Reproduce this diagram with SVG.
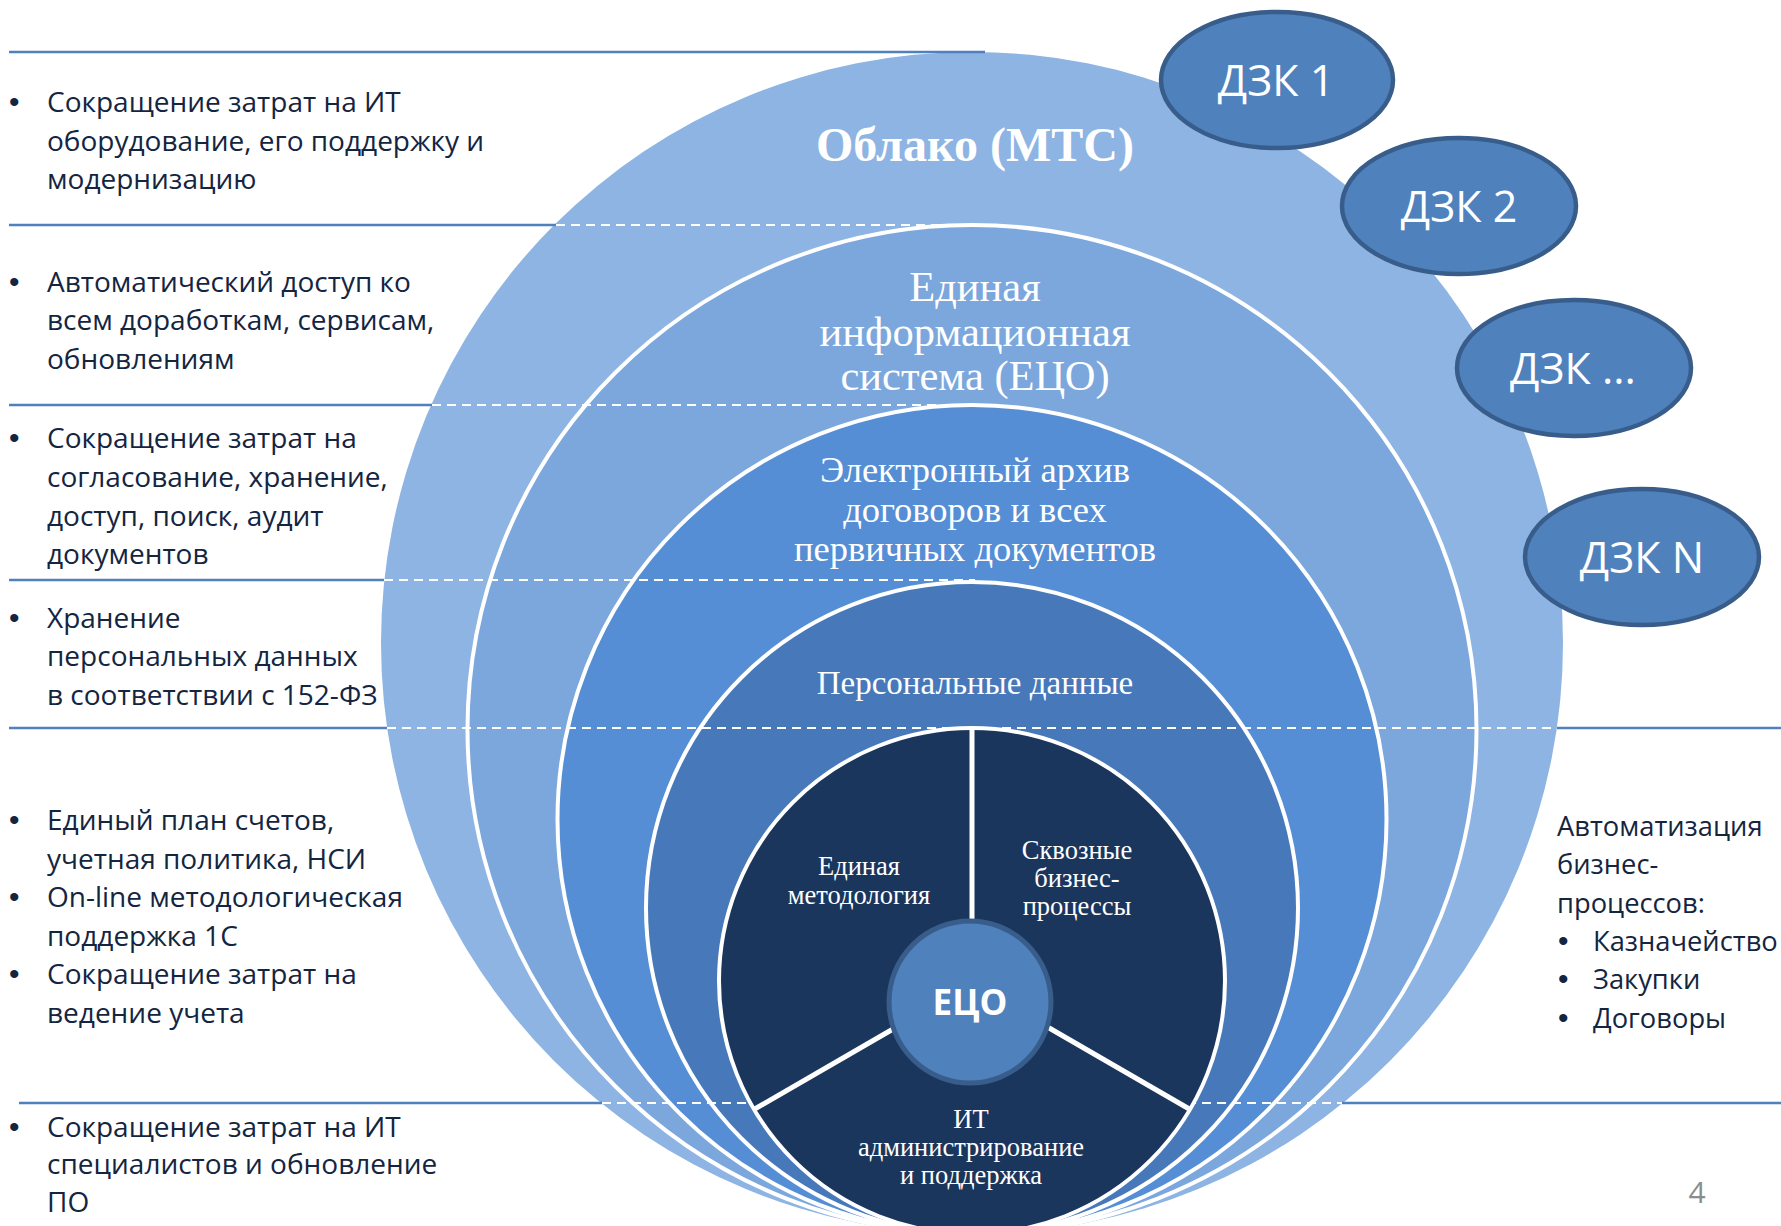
<svg xmlns="http://www.w3.org/2000/svg" width="1781" height="1226" viewBox="0 0 1781 1226">
<style>
.lt{font-family:"Open Sans","Noto Sans","DejaVu Sans",sans-serif;font-size:28px;fill:#14253F}
.rt{font-family:"Open Sans","Noto Sans","DejaVu Sans",sans-serif;font-size:27.3px;fill:#14253F}
.bu{font-family:"Liberation Sans",Arial,sans-serif;font-size:30px}
.sf{font-family:"Liberation Serif","Times New Roman",serif;fill:#FFFFFF;text-anchor:middle}
.dzk ellipse{fill:#4F81BD;stroke:#385D8A;stroke-width:4.5}
.dzk text{font-family:"Open Sans","Noto Sans",sans-serif;font-size:43px;fill:#FFFFFF;text-anchor:middle}
.ring{stroke:#FFFFFF;stroke-width:4}
.sol{stroke:#4F81BD;stroke-width:2.5;fill:none}
.dash{stroke:#FFFFFF;stroke-width:2;stroke-dasharray:9 6;fill:none}
.div{stroke:#FFFFFF;stroke-width:5;fill:none}
</style>
<rect width="1781" height="1226" fill="#FFFFFF"/>

<g id="cloud">
<circle cx="972" cy="643" r="591" fill="#8EB4E3"/>
<text class="sf" x="975" y="161" font-size="48" font-weight="bold">Облако (МТС)</text>
</g>
<g id="eis">
<circle class="ring" cx="972" cy="729.5" r="504.5" fill="#7BA7DD"/>
<text class="sf" font-size="42.5"><tspan x="975" y="301">Единая</tspan><tspan x="975" y="345.5">информационная</tspan><tspan x="975" y="390">система (ЕЦО)</tspan></text>
</g>
<g id="archive">
<circle class="ring" cx="972" cy="819.5" r="414.5" fill="#558ED5"/>
<text class="sf" font-size="36.5"><tspan x="975" y="482">Электронный архив</tspan><tspan x="975" y="521.5">договоров и всех</tspan><tspan x="975" y="561">первичных документов</tspan></text>
</g>
<g id="personal">
<circle class="ring" cx="972" cy="908" r="326" fill="#4779BA"/>
<text class="sf" x="975" y="694" font-size="33">Персональные данные</text>
</g>

<g id="connectors">
<line class="sol" x1="9" y1="52" x2="985" y2="52"/>
<line class="sol" x1="9" y1="225" x2="556" y2="225"/>
<line class="dash" x1="556" y1="225" x2="988" y2="225"/>
<line class="sol" x1="9" y1="405" x2="432" y2="405"/>
<line class="dash" x1="432" y1="405" x2="975" y2="405"/>
<line class="sol" x1="9" y1="580" x2="384" y2="580"/>
<line class="dash" x1="384" y1="580" x2="975" y2="580"/>
<line class="sol" x1="9" y1="728" x2="387" y2="728"/>
<line class="dash" x1="387" y1="728" x2="1557" y2="728"/>
<line class="sol" x1="1557" y1="728" x2="1781" y2="728"/>
<line class="sol" x1="19" y1="1103" x2="602" y2="1103"/>
<line class="dash" x1="602" y1="1103" x2="1342" y2="1103"/>
<line class="sol" x1="1342" y1="1103" x2="1781" y2="1103"/>
</g>

<g id="core">
<circle class="ring" cx="972" cy="981" r="253" fill="#1B365D"/>
<line class="div" x1="972" y1="728" x2="972" y2="920"/>
<line class="div" x1="900" y1="1025" x2="753" y2="1110"/>
<line class="div" x1="1044" y1="1025" x2="1191" y2="1110"/>
<text class="sf" font-size="26.5"><tspan x="859" y="875">Единая</tspan><tspan x="859" y="904">методология</tspan></text>
<text class="sf" font-size="26.5"><tspan x="1077" y="859">Сквозные</tspan><tspan x="1077" y="887">бизнес-</tspan><tspan x="1077" y="915">процессы</tspan></text>
<text class="sf" font-size="26.5"><tspan x="971" y="1128">ИТ</tspan><tspan x="971" y="1156">администрирование</tspan><tspan x="971" y="1184">и поддержка</tspan></text>
</g>
<g id="eco">
<circle cx="970" cy="1002" r="81" fill="#4F81BD" stroke="#385D8A" stroke-width="5"/>
<text x="970" y="1015" font-family="'Open Sans','Noto Sans',sans-serif" font-size="35" font-weight="bold" fill="#FFFFFF" text-anchor="middle">ЕЦО</text>
</g>

<g id="dzk1" class="dzk"><ellipse cx="1277" cy="80" rx="116" ry="68"/><text x="1276" y="96">ДЗК 1</text></g>
<g id="dzk2" class="dzk"><ellipse cx="1459" cy="206" rx="117" ry="68"/><text x="1459" y="222">ДЗК 2</text></g>
<g id="dzk3" class="dzk"><ellipse cx="1574" cy="368" rx="117" ry="68"/><text x="1573" y="384">ДЗК ...</text></g>
<g id="dzkN" class="dzk"><ellipse cx="1642" cy="557" rx="117" ry="68"/><text x="1642" y="573">ДЗК N</text></g>

<g id="left-text" class="lt">
<text><tspan class="bu" x="9" y="112">•</tspan><tspan x="47" y="112">Сокращение затрат на ИТ</tspan><tspan x="47" y="151">оборудование, его поддержку и</tspan><tspan x="47" y="189">модернизацию</tspan></text>
<text><tspan class="bu" x="9" y="292">•</tspan><tspan x="47" y="292">Автоматический доступ ко</tspan><tspan x="47" y="330">всем доработкам, сервисам,</tspan><tspan x="47" y="369">обновлениям</tspan></text>
<text><tspan class="bu" x="9" y="448">•</tspan><tspan x="47" y="448">Сокращение затрат на</tspan><tspan x="47" y="487">согласование, хранение,</tspan><tspan x="47" y="526">доступ, поиск, аудит</tspan><tspan x="47" y="564">документов</tspan></text>
<text><tspan class="bu" x="9" y="628">•</tspan><tspan x="47" y="628">Хранение</tspan><tspan x="47" y="666">персональных данных</tspan><tspan x="47" y="705">в соответствии с 152-ФЗ</tspan></text>
<text><tspan class="bu" x="9" y="830">•</tspan><tspan x="47" y="830">Единый план счетов,</tspan><tspan x="47" y="869">учетная политика, НСИ</tspan></text>
<text><tspan class="bu" x="9" y="907">•</tspan><tspan x="47" y="907">On-line методологическая</tspan><tspan x="47" y="946">поддержка 1С</tspan></text>
<text><tspan class="bu" x="9" y="984">•</tspan><tspan x="47" y="984">Сокращение затрат на</tspan><tspan x="47" y="1023">ведение учета</tspan></text>
<text><tspan class="bu" x="9" y="1137">•</tspan><tspan x="47" y="1137">Сокращение затрат на ИТ</tspan><tspan x="47" y="1174">специалистов и обновление</tspan><tspan x="47" y="1212">ПО</tspan></text>
</g>

<g id="right-text" class="rt">
<text><tspan x="1557" y="836">Автоматизация</tspan><tspan x="1557" y="874">бизнес-</tspan><tspan x="1557" y="913">процессов:</tspan></text>
<text><tspan class="bu" x="1558" y="951">•</tspan><tspan x="1593" y="951">Казначейство</tspan><tspan class="bu" x="1558" y="989">•</tspan><tspan x="1593" y="989">Закупки</tspan><tspan class="bu" x="1558" y="1028">•</tspan><tspan x="1593" y="1028">Договоры</tspan></text>
</g>

<text id="page-number" x="1697" y="1203" font-family="'Open Sans','Noto Sans',sans-serif" font-size="30" fill="#8C8C8C" text-anchor="middle">4</text>
</svg>
